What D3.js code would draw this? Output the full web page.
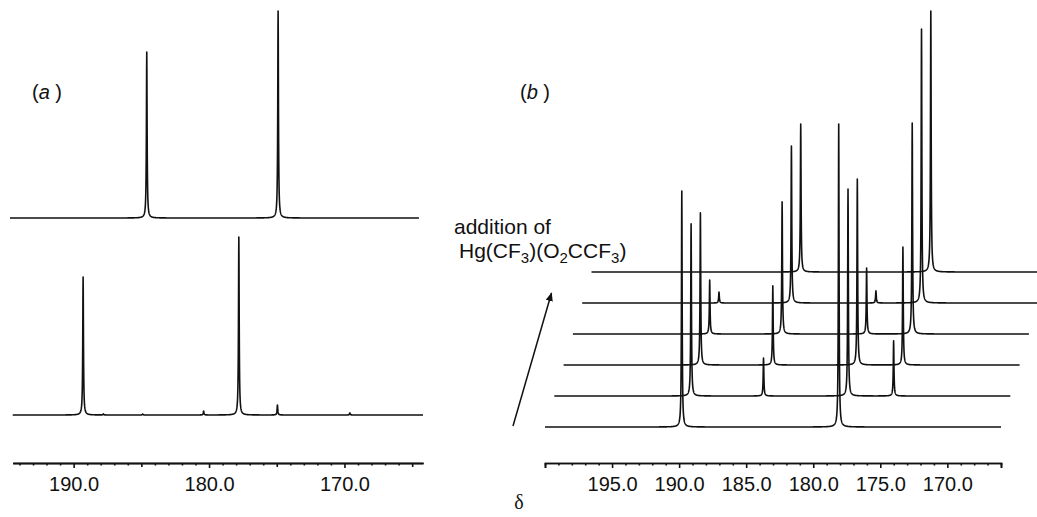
<!DOCTYPE html>
<html>
<head>
<meta charset="utf-8">
<script src="https://cdn.jsdelivr.net/npm/d3@7"></script>
<style>
body { margin: 0; background: #fff; }
text { font-family: "Liberation Sans", Arial, sans-serif; fill: #111; }
</style>
</head>
<body>
<svg id="nmr-plot"></svg>
<script>
// (a) upper spectrum: delta (ppm) and intensity (tallest peak = 100)
let peaksA1 = [184.6, 174.9];
let intsA1 = [80.2, 100];
// (a) lower spectrum
let peaksA2 = [189.3, 187.8, 184.9, 180.4, 177.8, 174.95, 169.6];
let intsA2 = [66.7, 0.5, 0.5, 1.9, 86.0, 4.8, 1.0];

// (b) four signals, intensity per trace from bottom to top
let signalsB = [189.8, 184.4, 178.1, 174.7];
let ints189 = [77.9, 56.8, 50.2, 17.8, 3.6, 0];
let ints184 = [0, 12.5, 26.1, 43.6, 51.8, 48.8];
let ints178 = [100, 68.3, 61.4, 21.8, 4.0, 0];
let ints175 = [0, 18.2, 38.9, 69.6, 90.4, 86.1];

let ticksA = [190, 180, 170];
let midTicksA = [185, 175, 165];
let ticksB = [195, 190, 185, 180, 175, 170];

const config = {
    width: 1037,
    height: 517,
    axisY: 463,
    lineWidth: 1.6,
    fontSize: 20
};

// 0) define svg
let svg = d3.select('#nmr-plot')
    .attr('width', config.width)
    .attr('height', config.height);

// 1) scales
let xScaleA = d3.scaleLinear().domain([194.5, 164.2]).range([12.7, 423]);
let yScaleA = d3.scaleLinear().domain([0, 100]).range([0, 207]);
let xScaleB = d3.scaleLinear().domain([200, 166]).range([545, 1001]);
let yScaleB = d3.scaleLinear().domain([0, 100]).range([0, 303]);

// lorentzian line shape built from a peak list
const spectrum = (peaks, ints, from, to, w = 0.03) => {
    let xs = d3.range(from, to, -0.01).concat([to], peaks).sort((a, b) => b - a);
    return xs.map(x => [x, d3.sum(peaks, (p, i) => ints[i] / (1 + ((x - p) / w) ** 2))]);
};

const draw_trace = (data, xScale, yScale, base, dx) => {
    let line = d3.line()
        .x(d => xScale(d[0]) + dx)
        .y(d => base - yScale(d[1]));
    svg.append('path')
        .datum(data)
        .attr('d', line)
        .style('fill', 'none')
        .style('stroke', '#111')
        .style('stroke-width', config.lineWidth)
        .style('stroke-linejoin', 'round');
};

// 2) panel (a)
draw_trace(spectrum(peaksA1, intsA1, 194.7, 164.5), xScaleA, yScaleA, 218, 0);
draw_trace(spectrum(peaksA2, intsA2, 194.5, 164.2), xScaleA, yScaleA, 415, 0);

// 3) panel (b): stacked traces, each shifted right and up
const stepX = 9.3, stepY = 31;
for (let i = 0; i < 6; i++) {
    let ints = [ints189[i], ints184[i], ints178[i], ints175[i]];
    draw_trace(spectrum(signalsB, ints, 200, 166), xScaleB, yScaleB, 427 - i * stepY, i * stepX);
}

// 4) axes
const style_axis = g => {
    g.selectAll('path, line').style('stroke', '#111').style('stroke-width', config.lineWidth);
    g.selectAll('text')
        .style('font-size', config.fontSize + 'px')
        .style('font-family', '"Liberation Sans", Arial, sans-serif')
        .style('fill', '#111');
};

const draw_axis = (xScale, labelled, mids, outer) => {
    let [d0, d1] = xScale.domain();
    let minors = d3.range(Math.ceil(d1), Math.floor(d0) + 1, 1)
        .filter(v => !labelled.includes(v) && !mids.includes(v));
    let axisG = svg.append('g').attr('transform', `translate(0,${config.axisY})`);
    axisG.append('g')
        .call(d3.axisBottom(xScale).tickValues(minors).tickSize(2.5).tickSizeOuter(outer).tickFormat(''))
        .call(style_axis);
    if (mids.length) {
        axisG.append('g')
            .call(d3.axisBottom(xScale).tickValues(mids).tickSize(4).tickSizeOuter(outer).tickFormat(''))
            .call(style_axis);
    }
    axisG.append('g')
        .call(d3.axisBottom(xScale).tickValues(labelled).tickSize(5).tickSizeOuter(outer).tickPadding(9)
            .tickFormat(d3.format('.1f')))
        .call(style_axis);
};
draw_axis(xScaleA, ticksA, midTicksA, 0);
draw_axis(xScaleB, ticksB, [], 5);

// 5) labels
const label = (x, y, letter) => {
    let t = svg.append('text').attr('x', x).attr('y', y).style('font-size', config.fontSize + 'px');
    t.append('tspan').text('(');
    t.append('tspan').text(letter).style('font-style', 'italic');
    t.append('tspan').text(' )');
};
label(32, 99, 'a');
label(520, 99, 'b');

svg.append('text').attr('x', 454).attr('y', 234)
    .style('font-size', '21px').text('addition of');

let hg = svg.append('text').attr('x', 459).attr('y', 258).style('font-size', '21px');
let prevSub = false;
[['Hg(CF', false], ['3', true], [')(O', false], ['2', true], ['CCF', false], ['3', true], [')', false]]
    .forEach(([s, sub]) => {
        hg.append('tspan').text(s)
            .attr('dy', sub ? 5 : (prevSub ? -5 : 0))
            .style('font-size', sub ? '15px' : null);
        prevSub = sub;
    });

svg.append('text').attr('x', 519).attr('y', 509)
    .attr('text-anchor', 'middle')
    .style('font-family', '"Liberation Serif", "DejaVu Serif", serif')
    .style('font-size', '20px')
    .text('δ');

// 6) arrow
svg.append('defs').append('marker')
    .attr('id', 'head')
    .attr('viewBox', '0 0 10 10')
    .attr('refX', 9).attr('refY', 5)
    .attr('markerWidth', 9).attr('markerHeight', 9)
    .attr('markerUnits', 'userSpaceOnUse')
    .attr('orient', 'auto')
    .append('path').attr('d', 'M0,1 L10,5 L0,9 Z').style('fill', '#111');
svg.append('line')
    .attr('x1', 513).attr('y1', 426).attr('x2', 551.5).attr('y2', 293)
    .style('stroke', '#111').style('stroke-width', 1.5)
    .attr('marker-end', 'url(#head)');
</script>
</body>
</html>
